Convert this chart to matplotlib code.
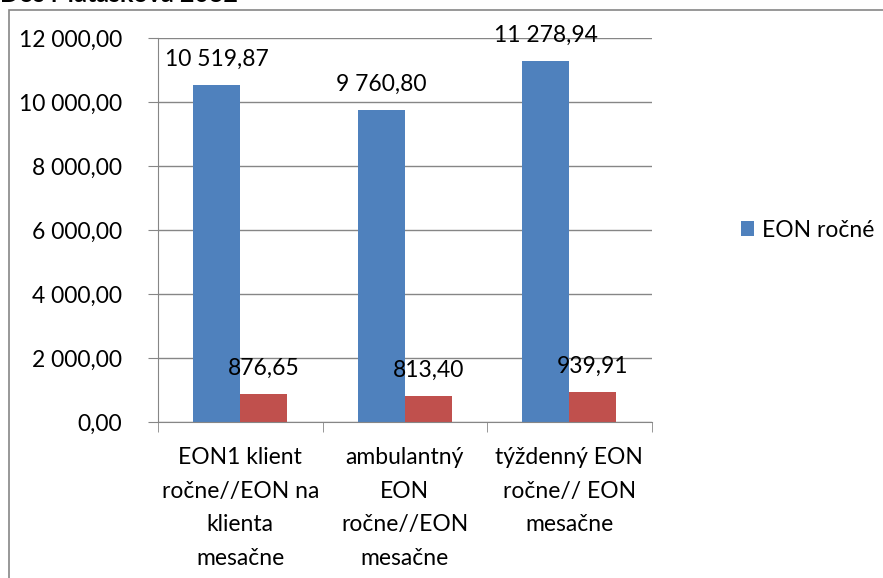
import matplotlib.pyplot as plt
from matplotlib.patches import Rectangle
import numpy as np

categories = ["EON1 klient\nročne//EON na\nklienta\nmesačne",
              "ambulantný\nEON\nročne//EON\nmesačne",
              "týždenný EON\nročne// EON\nmesačne"]
eon_rocne = [10519.87, 9760.80, 11278.94]
eon_mesacne = [876.65, 813.40, 939.91]
y_ticks = [0, 2000, 4000, 6000, 8000, 10000, 12000]


def fmt(v):
    s = f"{v:,.2f}"
    return s.replace(",", " ").replace(".", ",")


def main():
    plt.rcParams['font.family'] = ['Lato', 'DejaVu Sans']
    fs = 16.5
    fig = plt.figure(figsize=(8.83, 5.78), dpi=100)
    ax = fig.add_axes([0.179, 0.270, 0.559, 0.664])

    x = np.arange(len(categories))
    w = 0.2857
    b1 = ax.bar(x - w / 2, eon_rocne, w, color="#4F81BD", label="EON ročné")
    b2 = ax.bar(x + w / 2, eon_mesacne, w, color="#C0504D")

    for rect, v in zip(list(b1) + list(b2), eon_rocne + eon_mesacne):
        ax.annotate(fmt(v), (rect.get_x() + rect.get_width() / 2, v),
                    xytext=(0, 11), textcoords="offset points",
                    ha="center", va="bottom", fontsize=fs)

    ax.set_xlim(-0.5, len(categories) - 0.5)
    ax.set_ylim(0, 12000)
    ax.set_yticks(y_ticks)
    ax.set_yticklabels([fmt(t) for t in y_ticks])
    ax.set_xticks(x)
    ax.set_xticklabels(categories, linespacing=1.75)
    ax.set_xticks(np.arange(len(categories) + 1) - 0.5, minor=True)
    ax.tick_params(axis="x", which="major", length=0, pad=18, labelsize=fs)
    ax.tick_params(axis="x", which="minor", length=7, color="#868686")
    ax.tick_params(axis="y", length=7, color="#868686", labelsize=fs, pad=19)
    ax.yaxis.grid(True, color="#868686", linewidth=1)
    ax.set_axisbelow(True)
    for s in ["top", "right"]:
        ax.spines[s].set_visible(False)
    for s in ["left", "bottom"]:
        ax.spines[s].set_color("#868686")

    ax.legend(loc="center left", bbox_to_anchor=(1.18, 0.5), frameon=False,
              fontsize=fs, handlelength=0.6, handleheight=0.6, handletextpad=0.35,
              borderpad=0, borderaxespad=0)

    # outer chart border (clipped by image edge)
    fig.patches.append(Rectangle((9 / 883, -0.1), 1.2, 1.1 - 10 / 578,
                                 transform=fig.transFigure, fill=False,
                                 edgecolor="#868686", linewidth=1.2))
    fig.text(0.0, 1 - 6 / 578, "Dos Matašková 2032", fontsize=18,
             fontweight="bold", va="bottom", ha="left")

    plt.savefig("out.png", dpi=100)


if __name__ == '__main__':
    main()
